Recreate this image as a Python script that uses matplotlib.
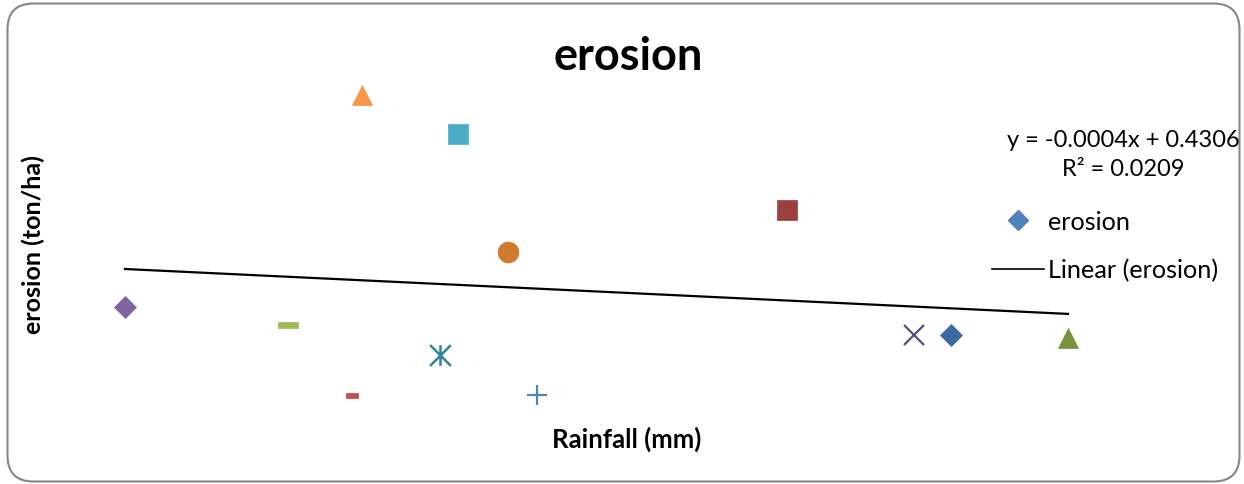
import numpy as np
import matplotlib
matplotlib.use("Agg")
import matplotlib.pyplot as plt
from matplotlib.path import Path
from matplotlib.patches import FancyBboxPatch
from matplotlib.transforms import IdentityTransform
from matplotlib.lines import Line2D

# Rainfall (mm) and erosion (ton/ha) observations
rainfall = [20.0, 52.6, 65.4, 67.4, 83.0, 86.6, 96.6, 102.4, 152.4, 177.8, 185.2, 208.6]
erosion = [0.359, 0.329, 0.211, 0.715, 0.278, 0.649, 0.451, 0.211, 0.522, 0.312, 0.312, 0.307]

# Linear trendline coefficients
SLOPE = -0.0004
INTERCEPT = 0.4306
R2 = 0.0209

# Per-point marker styling
point_colors = ["#8064A2", "#9BBB59", "#C0504D", "#F79646", "#31859C", "#4BACC6",
                "#D07A30", "#4F81BD", "#9C403D", "#604A7B", "#3C6AA0", "#77933C"]

rect_codes = [Path.MOVETO, Path.LINETO, Path.LINETO, Path.LINETO, Path.CLOSEPOLY]
dash_long = Path([(-1, -0.25), (1, -0.25), (1, 0.25), (-1, 0.25), (-1, -0.25)], rect_codes)
dash_short = Path([(-1, -0.45), (1, -0.45), (1, 0.45), (-1, 0.45), (-1, -0.45)], rect_codes)
asterisk = Path([(-1, -1), (1, 1), (-1, 1), (1, -1), (0, -1), (0, 1)],
                [Path.MOVETO, Path.LINETO, Path.MOVETO, Path.LINETO, Path.MOVETO, Path.LINETO])

marker_specs = [
    dict(marker="D", ms=11),
    dict(marker=dash_long, ms=15),
    dict(marker=dash_short, ms=8),
    dict(marker="^", ms=14),
    dict(marker=asterisk, ms=15, open=True, mew=1.8),
    dict(marker="s", ms=15),
    dict(marker="o", ms=15),
    dict(marker="+", ms=14, open=True, mew=1.6),
    dict(marker="s", ms=15),
    dict(marker="x", ms=14, open=True, mew=1.6),
    dict(marker="D", ms=11),
    dict(marker="^", ms=14),
]

W, H = 1244, 485
fig = plt.figure(figsize=(W / 100, H / 100), dpi=100)
fig.patch.set_facecolor("white")

# Rounded chart-area border
frame = FancyBboxPatch((7.5, 2.5), 1232, 478,
                       boxstyle="round,pad=0,rounding_size=26",
                       transform=IdentityTransform(), facecolor="none",
                       edgecolor="#868686", linewidth=1.5)
fig.add_artist(frame)

ax_l, ax_r, ax_t, ax_b = 100, 1095, 80, 415
ax = fig.add_axes([ax_l / W, (H - ax_b) / H, (ax_r - ax_l) / W, (ax_b - ax_t) / H])
ax.set_xlim(15, 214)
ax.set_ylim(0.1790, 0.7418)
for s in ax.spines.values():
    s.set_visible(False)
ax.set_xticks([])
ax.set_yticks([])
ax.patch.set_alpha(0)

font = "Lato"

for x, y, c, spec in zip(rainfall, erosion, point_colors, marker_specs):
    if spec.get("open"):
        ax.plot([x], [y], linestyle="none", marker=spec["marker"], ms=spec["ms"],
                markerfacecolor="none", markeredgecolor=c, mew=spec.get("mew", 1.5))
    else:
        ax.plot([x], [y], linestyle="none", marker=spec["marker"], ms=spec["ms"],
                markerfacecolor=c, markeredgecolor=c, mew=0.5)

# Trendline from the stated coefficients
xt = np.array([min(rainfall), max(rainfall)])
ax.plot(xt, SLOPE * xt + INTERCEPT, color="black", lw=1.6)

fig.text(628 / W, 1 - 57 / H, "erosion", ha="center", va="center",
         fontsize=32.5, fontweight="bold", family=font)
fig.text(627 / W, 1 - 439 / H, "Rainfall (mm)", ha="center", va="center",
         fontsize=18.5, fontweight="bold", family=font)
fig.text(33 / W, 1 - 245 / H, "erosion (ton/ha)", ha="center", va="center",
         rotation=90, fontsize=18, fontweight="bold", family=font)

eq = f"y = {SLOPE:.4f}x + {INTERCEPT:.4f}\nR² = {R2:.4f}"
fig.text(1123 / W, 1 - 155 / H, eq, ha="center", va="center",
         fontsize=17, family=font, linespacing=1.45)

handles = [Line2D([], [], linestyle="none", marker="D", ms=10,
                  markerfacecolor="#4F81BD", markeredgecolor="#4F81BD"),
           Line2D([], [], color="black", lw=1.2)]
leg = fig.legend(handles, ["erosion", "Linear (erosion)"],
                 loc="upper left", bbox_to_anchor=(992 / W, 1 - 211 / H),
                 frameon=False, prop=dict(family=font, size=18.2),
                 handlelength=2.05, handletextpad=0.15, labelspacing=1.0,
                 borderpad=0, borderaxespad=0)

fig.savefig("out.png", dpi=100, facecolor="white")
